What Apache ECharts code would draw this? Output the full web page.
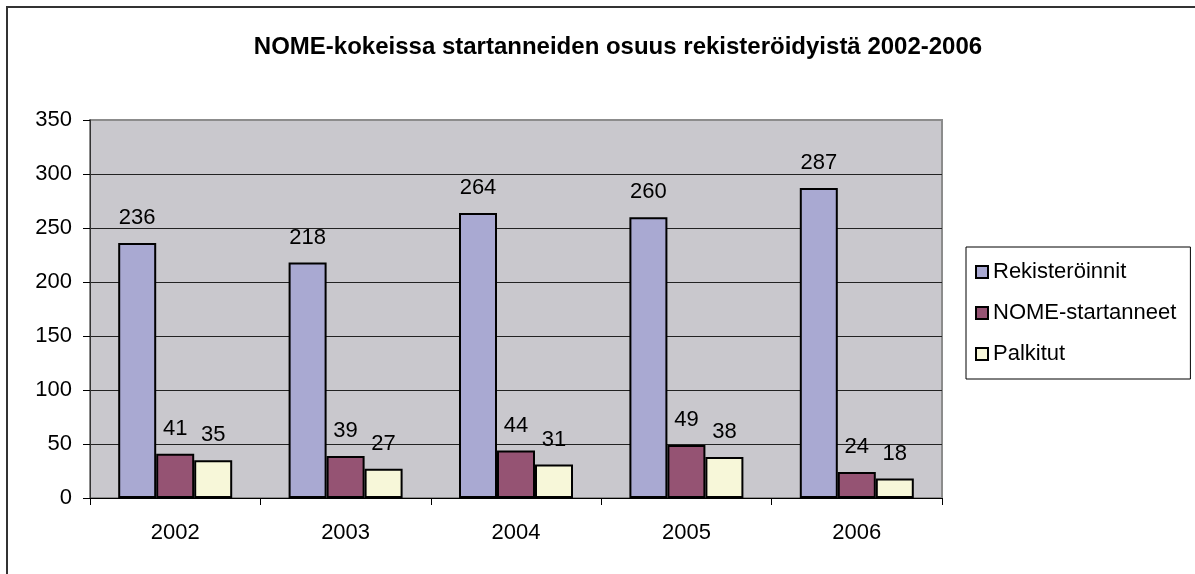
<!DOCTYPE html>
<html>
<head>
<meta charset="utf-8">
<script src="https://cdn.jsdelivr.net/npm/echarts@6/dist/echarts.min.js"></script>
<style>
  html, body { margin: 0; padding: 0; background: #fff; }
  #main { width: 1195px; height: 574px; }
</style>
</head>
<body>
<div id="main"></div>
<script>
var years = ["2002", "2003", "2004", "2005", "2006"];
var rekisteroinnit = [236, 218, 264, 260, 287];
var startanneet = [41, 39, 44, 49, 24];
var palkitut = [35, 27, 31, 38, 18];
var yTicks = [0, 50, 100, 150, 200, 250, 300, 350];

var font = "Liberation Sans, Arial, sans-serif";

function bar(name, values, color) {
  return {
    name: name,
    type: "bar",
    data: values,
    barWidth: 38,
    barGap: "0%",
    itemStyle: { color: color, borderColor: "#000", borderWidth: 2 },
    label: {
      show: true,
      position: "top",
      distance: 14,
      color: "#000",
      fontFamily: font,
      fontSize: 22
    }
  };
}

var chart = echarts.init(document.getElementById("main"));
chart.setOption({
  animation: false,
  backgroundColor: "#fff",
  title: {
    text: "NOME-kokeissa startanneiden osuus rekisteröidyistä 2002-2006",
    left: 613,
    top: 30,
    textAlign: "center",
    textStyle: { fontFamily: font, fontSize: 24, fontWeight: "bold", color: "#000" }
  },
  graphic: [{
    type: "rect",
    shape: { x: 7, y: 7, width: 1300, height: 700 },
    style: { fill: "none", stroke: "#333", lineWidth: 2 },
    z: 100
  }],
  legend: {
    orient: "vertical",
    left: 966,
    top: 247,
    padding: [14, 14, 14, 9],
    itemGap: 19,
    itemWidth: 12,
    itemHeight: 12,
    itemTextGap: 9,
    borderColor: "#000",
    borderWidth: 1,
    icon: "rect",
    textStyle: { fontFamily: font, fontSize: 22, color: "#000", lineHeight: 22 }
  },
  grid: {
    left: 90,
    top: 120,
    right: 253,
    bottom: 76,
    show: true,
    backgroundColor: "#C9C8CD",
    borderColor: "#8c8c8c",
    borderWidth: 2
  },
  xAxis: {
    type: "category",
    data: years,
    axisLine: { lineStyle: { color: "#000", width: 1 } },
    axisTick: { show: true, length: 7, lineStyle: { color: "#000" } },
    axisLabel: { color: "#000", fontFamily: font, fontSize: 22, margin: 24 }
  },
  yAxis: {
    type: "value",
    min: yTicks[0],
    max: yTicks[yTicks.length - 1],
    interval: 50,
    axisLine: { show: true, lineStyle: { color: "#333", width: 1 } },
    axisTick: { show: true, length: 7, lineStyle: { color: "#000" } },
    axisLabel: { color: "#000", fontFamily: font, fontSize: 22, margin: 18 },
    splitLine: {
      lineStyle: {
        color: ["#222", "#222", "#222", "#222", "#222", "#222", "#222", "#8c8c8c"],
        width: 1
      }
    }
  },
  series: [
    bar("Rekisteröinnit", rekisteroinnit, "#A9A9D2"),
    bar("NOME-startanneet", startanneet, "#955373"),
    bar("Palkitut", palkitut, "#F7F7D9")
  ]
});
</script>
</body>
</html>
